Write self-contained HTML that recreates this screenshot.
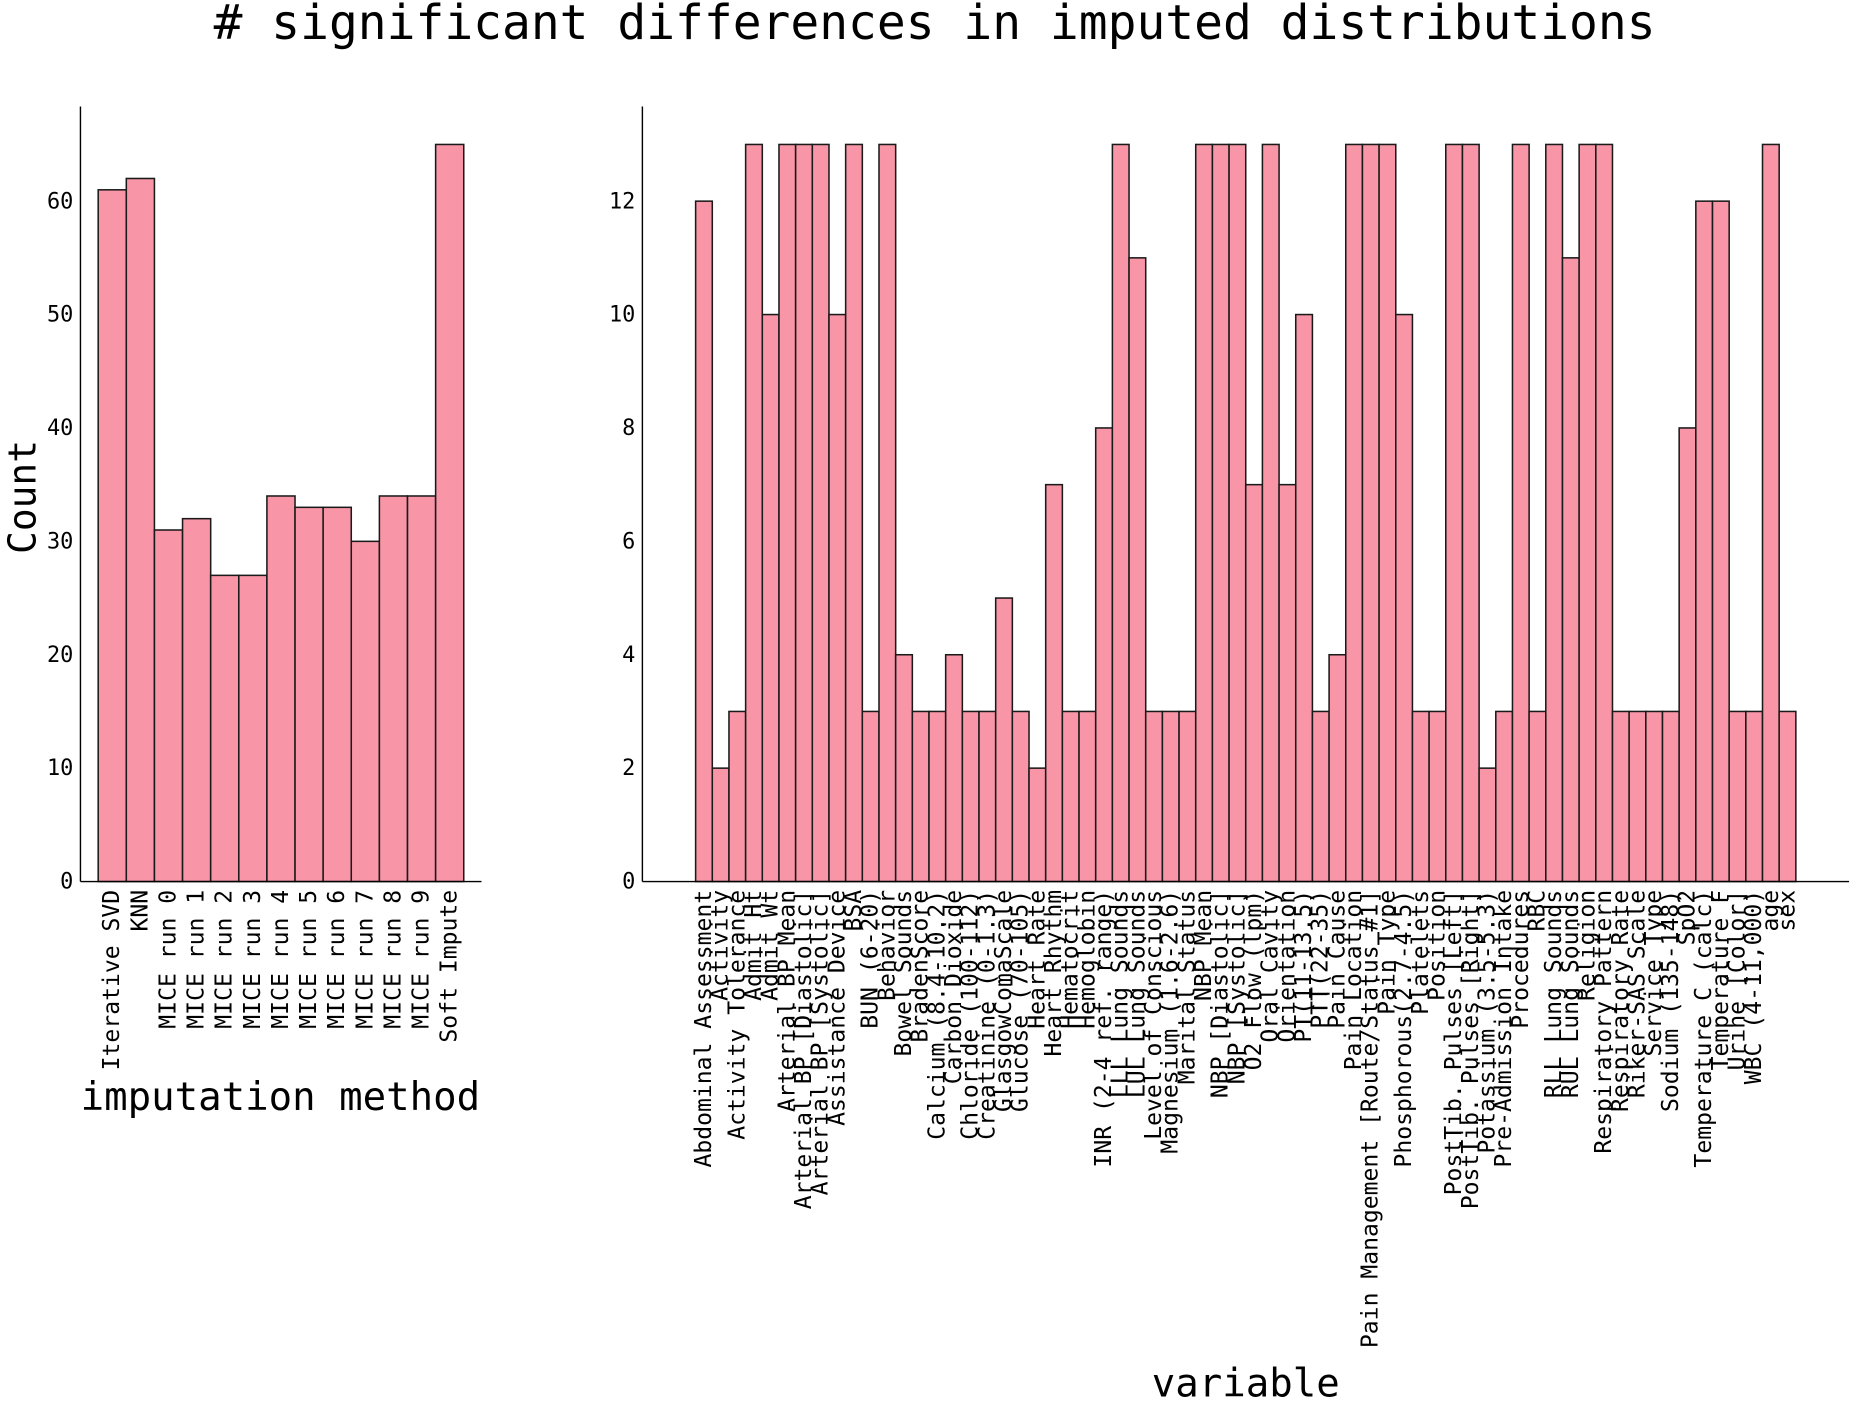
<!DOCTYPE html>
<html><head><meta charset="utf-8"><style>
html,body{margin:0;padding:0;background:#fff;}
svg{display:block;}
text{font-family:"DejaVu Sans Mono","Liberation Mono",monospace;fill:#000;}
</style></head><body>
<svg id="chart" width="1855" height="1401" viewBox="0 0 1568 1184" preserveAspectRatio="none" xmlns="http://www.w3.org/2000/svg">
<text x="790" y="33" font-size="40.5" text-anchor="middle"># significant differences in imputed distributions</text>
<g id="left"></g>
<g id="right"></g>
<text transform="translate(30,420) rotate(-90)" font-size="32" text-anchor="middle">Count</text>
<text x="237" y="938" font-size="33" text-anchor="middle">imputation method</text>
<text x="1053" y="1180" font-size="33" text-anchor="middle">variable</text>
</svg>
<script>
const methods = ["Iterative SVD","KNN","MICE run 0","MICE run 1","MICE run 2","MICE run 3","MICE run 4","MICE run 5","MICE run 6","MICE run 7","MICE run 8","MICE run 9","Soft Impute"];
const methodCounts = [61,62,31,32,27,27,34,33,33,30,34,34,65];
const leftTicks = [0,10,20,30,40,50,60];
const variables = ["Abdominal Assessment","Activity","Activity Tolerance","Admit Ht","Admit Wt","Arterial BP Mean","Arterial BP [Diastolic]","Arterial BP [Systolic]","Assistance Device","BSA","BUN (6-20)","Behavior","Bowel Sounds","BradenScore","Calcium (8.4-10.2)","Carbon Dioxide","Chloride (100-112)","Creatinine (0-1.3)","GlasgowComaScale","Glucose (70-105)","Heart Rate","Heart Rhythm","Hematocrit","Hemoglobin","INR (2-4 ref. range)","LLL Lung Sounds","LUL Lung Sounds","Level of Conscious","Magnesium (1.6-2.6)","Marital Status","NBP Mean","NBP [Diastolic]","NBP [Systolic]","O2 Flow (lpm)","Oral Cavity","Orientation","PT(11-13.5)","PTT(22-35)","Pain Cause","Pain Location","Pain Management [Route/Status #1]","Pain Type","Phosphorous(2.7-4.5)","Platelets","Position","PostTib. Pulses [Left]","PostTib. Pulses [Right]","Potassium (3.5-5.3)","Pre-Admission Intake","Procedures","RBC","RLL Lung Sounds","RUL Lung Sounds","Religion","Respiratory Pattern","Respiratory Rate","Riker-SAS Scale","Service Type","Sodium (135-148)","SpO2","Temperature C (calc)","Temperature F","Urine [Color]","WBC (4-11,000)","age","sex"];
const variableCounts = [12,2,3,13,10,13,13,13,10,13,3,13,4,3,3,4,3,3,5,3,2,7,3,3,8,13,11,3,3,3,13,13,13,7,13,7,10,3,4,13,13,13,10,3,3,13,13,2,3,13,3,13,11,13,13,3,3,3,3,8,12,12,3,3,13,3];
const rightTicks = [0,2,4,6,8,10,12];

const NS="http://www.w3.org/2000/svg";
function mk(parent,tag,attrs){const e=document.createElementNS(NS,tag);for(const k in attrs)e.setAttribute(k,attrs[k]);parent.appendChild(e);return e;}

function panel(g,cfg,cats,vals,ticks,prefix){
  const y0=745;
  const yScale=v=>y0-(v-0)*cfg.ppu;
  const bw=(cfg.barEnd-cfg.barStart)/cats.length;
  const xScale=i=>cfg.barStart+i*bw;
  const ya=mk(g,"line",{x1:cfg.axisX,y1:90,x2:cfg.axisX,y2:y0,stroke:"#000","stroke-width":1.2});
  
  
  ticks.forEach(t=>{
    const tx=mk(g,"text",{x:cfg.axisX-6,y:yScale(t)+6,"font-size":18.5,"text-anchor":"end"});
    tx.textContent=t;
    
    
  });
  cats.forEach((c,i)=>{
    const r=mk(g,"rect",{x:xScale(i),y:yScale(vals[i]),width:bw,height:y0-yScale(vals[i]),fill:"#f896a8",stroke:"#1a1a1a","stroke-width":1.3});
    
    
    const cx=xScale(i)+bw/2;
    const t=mk(g,"text",{x:cx,y:752,"font-size":cfg.labelSize,"text-anchor":"end","dominant-baseline":"central",transform:`rotate(-90 ${cx} 752)`});
    t.textContent=c;
    
    
  });
  const xa=mk(g,"line",{x1:cfg.axisX,y1:y0,x2:cfg.axisEnd,y2:y0,stroke:"#000","stroke-width":1.2});
  
  
}
panel(document.getElementById("left"),{axisX:68,axisEnd:407,barStart:83,barEnd:392,ppu:(745-170)/60,labelSize:19.5},methods,methodCounts,leftTicks,"method");
panel(document.getElementById("right"),{axisX:543,axisEnd:1563,barStart:588,barEnd:1518,ppu:(745-170)/12,labelSize:19.5},variables,variableCounts,rightTicks,"variable");
</script>
</body></html>
